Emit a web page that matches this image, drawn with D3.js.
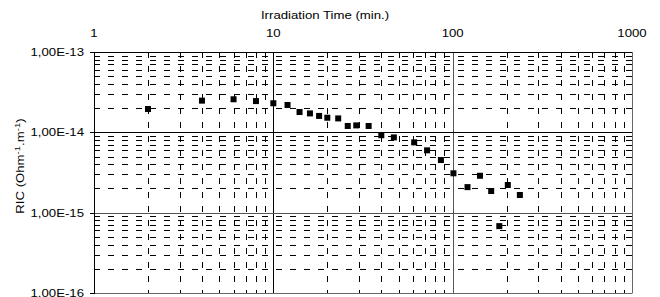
<!DOCTYPE html>
<html>
<head>
<meta charset="utf-8">
<script src="https://cdn.jsdelivr.net/npm/d3@7"></script>
<style>
  body { margin: 0; background: #fff; }
  text { font-family: "Liberation Sans", Arial, sans-serif; fill: #000; }
</style>
</head>
<body>
<svg width="660" height="297"></svg>
<script>
// irradiation time (min.) and RIC values
const times = [2, 4, 6, 8, 10, 12, 14, 16, 18, 20, 23, 26, 29, 34, 40, 47, 61, 72, 86, 101, 121, 142, 164, 182, 203, 237];
const ric = [1.95e-14, 2.48e-14, 2.58e-14, 2.45e-14, 2.3e-14, 2.19e-14, 1.79e-14, 1.72e-14, 1.6e-14, 1.52e-14, 1.49e-14,
             1.2e-14, 1.22e-14, 1.2e-14, 9.2e-15, 8.65e-15, 7.5e-15, 5.97e-15, 4.52e-15, 3.09e-15, 2.08e-15, 2.88e-15,
             1.86e-15, 6.8e-16, 2.21e-15, 1.66e-15];
const xTicks = [1, 10, 100, 1000];
const yTicks = [1e-13, 1e-14, 1e-15, 1e-16];
const yTickLabels = ["1,00E-13", "1,00E-14", "1,00E-15", "1,00E-16"];

const svg = d3.select("svg");
const mLeft = 94, mRight = 632, mTop = 52, mBottom = 293;
const stretch = 1.2; // the original text is a bit wider than Arial

const x = d3.scaleLog().domain([1, 1000]).range([mLeft, mRight]);
const y = d3.scaleLog().domain([1e-16, 1e-13]).range([mBottom, mTop]);

// minor values inside each decade
const minorX = [], minorY = [];
for (let d = 1; d < 1000; d *= 10) for (let k = 2; k <= 9; k++) minorX.push(d * k);
for (let d = 1e-16; d < 1e-13 * 0.99; d *= 10) for (let k = 2; k <= 9; k++) minorY.push(d * k);

const px = v => Math.round(x(v)) + 0.5;
const py = v => Math.round(y(v)) + 0.5;

// dashed minor grid
svg.append("g").selectAll("line").data(minorX).enter().append("line")
  .attr("x1", px).attr("x2", px).attr("y1", mTop).attr("y2", mBottom)
  .attr("stroke", "#000").attr("stroke-dasharray", "6,8");
svg.append("g").selectAll("line").data(minorY).enter().append("line")
  .attr("y1", py).attr("y2", py).attr("x1", mLeft).attr("x2", mRight)
  .attr("stroke", "#000").attr("stroke-dasharray", "6,8");

// solid major grid
svg.append("g").selectAll("line").data([10, 100]).enter().append("line")
  .attr("x1", px).attr("x2", px).attr("y1", mTop).attr("y2", mBottom)
  .attr("stroke", d => d === 10 ? "#000" : "#555");
svg.append("g").selectAll("line").data([1e-14, 1e-15]).enter().append("line")
  .attr("y1", py).attr("y2", py).attr("x1", mLeft).attr("x2", mRight)
  .attr("stroke", d => d === 1e-14 ? "#000" : "#555");

// frame
svg.append("line").attr("x1", mLeft).attr("x2", mRight + 0.5).attr("y1", mTop + 0.5).attr("y2", mTop + 0.5).attr("stroke", "#000");
svg.append("line").attr("x1", mLeft).attr("x2", mRight + 0.5).attr("y1", mBottom + 0.5).attr("y2", mBottom + 0.5).attr("stroke", "#666");
svg.append("line").attr("x1", mRight + 0.5).attr("x2", mRight + 0.5).attr("y1", mTop).attr("y2", mBottom).attr("stroke", "#666");
svg.append("line").attr("x1", mLeft + 0.5).attr("x2", mLeft + 0.5).attr("y1", mTop).attr("y2", mBottom + 1).attr("stroke", "#000");

// y ticks on the left
svg.append("g").selectAll("line").data(yTicks).enter().append("line")
  .attr("x1", mLeft - 4).attr("x2", mLeft).attr("y1", py).attr("y2", py).attr("stroke", "#000");

// top axis labels
svg.append("g").selectAll("text").data(xTicks).enter().append("text")
  .attr("transform", d => `translate(${x(d)},37) scale(${stretch},1)`)
  .attr("text-anchor", "middle").attr("font-size", "11px").text(d => d);

// y labels
svg.append("g").selectAll("text").data(yTicks).enter().append("text")
  .attr("transform", d => `translate(84,${y(d) + 4}) scale(${stretch},1)`)
  .attr("text-anchor", "end").attr("font-size", "11px").text((d, i) => yTickLabels[i]);

// axis titles
svg.append("text").attr("transform", `translate(325,19) scale(${stretch},1)`)
  .attr("text-anchor", "middle").attr("font-size", "11px").text("Irradiation Time (min.)");

const yt = svg.append("text").attr("transform", `translate(24,166) rotate(-90) scale(${stretch},1)`)
  .attr("text-anchor", "middle").attr("font-size", "11px");
yt.append("tspan").text("RIC (Ohm");
yt.append("tspan").attr("dy", -4).attr("font-size", "8px").text("-1");
yt.append("tspan").attr("dy", 4).text(".m");
yt.append("tspan").attr("dy", -4).attr("font-size", "8px").text("-1");
yt.append("tspan").attr("dy", 4).text(")");

// points
svg.append("g").selectAll("rect").data(times).enter().append("rect")
  .attr("x", d => x(d) - 3).attr("y", (d, i) => y(ric[i]) - 3)
  .attr("width", 6).attr("height", 6).attr("fill", "#000");
</script>
</body>
</html>
